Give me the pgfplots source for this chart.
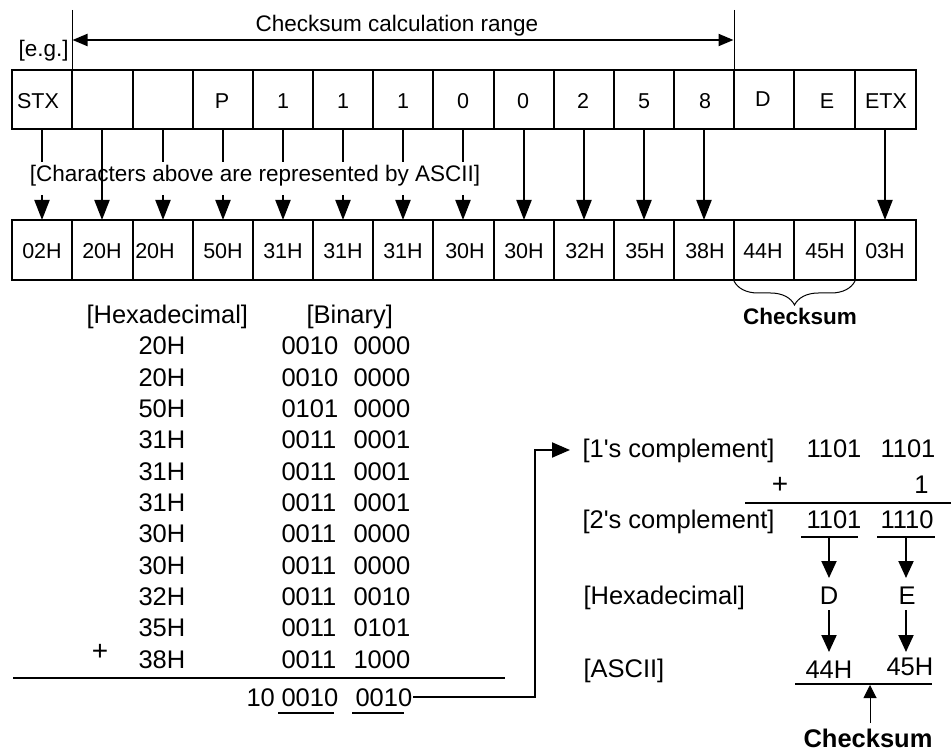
\documentclass[border=0pt]{standalone}
\usepackage{pgfplots}
\pgfplotsset{compat=1.18}
\usepackage{fontspec}
\setmainfont{Liberation Sans}[Ligatures=TeXOff]
\usetikzlibrary{arrows.meta,decorations.pathreplacing}
\newcommand\M{\fontsize{25.5}{30}\selectfont}
\newcommand\Sm{\fontsize{22.5}{27}\selectfont}
\newcommand\Bx{\fontsize{21.5}{26}\selectfont}
\begin{document}
\begin{tikzpicture}
\begin{axis}[scale only axis, width=951pt, height=751pt,
  xmin=0, xmax=951, ymin=0, ymax=751, y dir=reverse,
  hide axis, clip=false,
  arr/.style={line width=2pt, -{Triangle[width=15pt,length=20pt]}},
  arrb/.style={line width=2pt, -{Triangle[width=15pt,length=17pt]}},
  every node/.append style={inner sep=0pt, outer sep=0pt}]

% frames of the two rows of boxes
\addplot[line width=2pt, line cap=rect] coordinates {(12,70)(916,70)};
\addplot[line width=2pt, line cap=rect] coordinates {(12,129)(916,129)};
\addplot[line width=2pt, line cap=rect] coordinates {(12,220)(916,220)};
\addplot[line width=2pt, line cap=rect] coordinates {(12,280)(916,280)};
\pgfplotsinvokeforeach{12,72,133,193,253,313,373,433,494,554,614,674,734,794,855,916}{
  \addplot[line width=2pt, line cap=rect] coordinates {(#1,70)(#1,129)};
  \addplot[line width=2pt, line cap=rect] coordinates {(#1,220)(#1,280)};
}

% checksum calculation range
\addplot[line width=1pt] coordinates {(72,10)(72,70)};
\addplot[line width=1pt] coordinates {(734,10)(734,70)};
\addplot[line width=2pt, {Triangle[width=12pt,length=15pt]}-{Triangle[width=12pt,length=15pt]}] coordinates {(72.5,40)(733.5,40)};
\node[anchor=base, font=\Sm] at (axis cs:397,32) {Checksum calculation range};
\node[anchor=base west, font=\Sm] at (axis cs:15,57) {[e.g.]};

% arrows between the rows
\pgfplotsinvokeforeach{42,163,223,283,343,403,463}{
  \addplot[line width=2pt] coordinates {(#1,129)(#1,162)};
  \addplot[arr] coordinates {(#1,195)(#1,220)};
}
\pgfplotsinvokeforeach{102,524,584,644,704,885}{
  \addplot[arr] coordinates {(#1,129)(#1,220)};
}
\node[anchor=base, font=\Sm] at (axis cs:255,182) {[Characters above are represented by ASCII]};

% characters in the top row
\node[anchor=base, font=\Bx] at (axis cs:38,109) {STX};
\node[anchor=base, font=\Bx] at (axis cs:222,109) {P};
\node[anchor=base, font=\Bx] at (axis cs:283,109) {1};
\node[anchor=base, font=\Bx] at (axis cs:343,109) {1};
\node[anchor=base, font=\Bx] at (axis cs:403,109) {1};
\node[anchor=base, font=\Bx] at (axis cs:463,109) {0};
\node[anchor=base, font=\Bx] at (axis cs:523,109) {0};
\node[anchor=base, font=\Bx] at (axis cs:583,109) {2};
\node[anchor=base, font=\Bx] at (axis cs:644,109) {5};
\node[anchor=base, font=\Bx] at (axis cs:705,109) {8};
\node[anchor=base, font=\Bx] at (axis cs:763,107) {D};
\node[anchor=base, font=\Bx] at (axis cs:827,109) {E};
\node[anchor=base, font=\Bx] at (axis cs:886,109) {ETX};

% ASCII codes in the bottom row
\node[anchor=base, font=\Bx] at (axis cs:42,259) {02H};
\node[anchor=base, font=\Bx] at (axis cs:102,259) {20H};
\node[anchor=base, font=\Bx] at (axis cs:155,259) {20H};
\node[anchor=base, font=\Bx] at (axis cs:223,259) {50H};
\node[anchor=base, font=\Bx] at (axis cs:283,259) {31H};
\node[anchor=base, font=\Bx] at (axis cs:343,259) {31H};
\node[anchor=base, font=\Bx] at (axis cs:403,259) {31H};
\node[anchor=base, font=\Bx] at (axis cs:465,259) {30H};
\node[anchor=base, font=\Bx] at (axis cs:524,259) {30H};
\node[anchor=base, font=\Bx] at (axis cs:585,259) {32H};
\node[anchor=base, font=\Bx] at (axis cs:645,259) {35H};
\node[anchor=base, font=\Bx] at (axis cs:705,259) {38H};
\node[anchor=base, font=\Bx] at (axis cs:763,259) {44H};
\node[anchor=base, font=\Bx] at (axis cs:825,259) {45H};
\node[anchor=base, font=\Bx] at (axis cs:885,259) {03H};

% brace
\draw[line width=1pt, decorate, decoration={brace, mirror, amplitude=24pt}] (axis cs:734,281) -- (axis cs:855,281);
\node[anchor=base, font=\Sm\bfseries] at (axis cs:800,325) {Checksum};

% addition table
\node[anchor=base west, font=\M] at (axis cs:83,324) {[Hexadecimal]};
\node[anchor=base west, font=\M] at (axis cs:303,324) {[Binary]};
\node[anchor=base west, font=\M] at (axis cs:135,355)   {20H};
\node[anchor=base west, font=\M] at (axis cs:135,386.3) {20H};
\node[anchor=base west, font=\M] at (axis cs:135,417.6) {50H};
\node[anchor=base west, font=\M] at (axis cs:135,448.9) {31H};
\node[anchor=base west, font=\M] at (axis cs:135,480.2) {31H};
\node[anchor=base west, font=\M] at (axis cs:135,511.5) {31H};
\node[anchor=base west, font=\M] at (axis cs:135,542.8) {30H};
\node[anchor=base west, font=\M] at (axis cs:135,574.1) {30H};
\node[anchor=base west, font=\M] at (axis cs:135,605.4) {32H};
\node[anchor=base west, font=\M] at (axis cs:135,636.7) {35H};
\node[anchor=base west, font=\M] at (axis cs:135,668)   {38H};
\node[anchor=base west, font=\M] at (axis cs:278,355)   {0010};
\node[anchor=base west, font=\M] at (axis cs:350,355)   {0000};
\node[anchor=base west, font=\M] at (axis cs:278,386.3) {0010};
\node[anchor=base west, font=\M] at (axis cs:350,386.3) {0000};
\node[anchor=base west, font=\M] at (axis cs:278,417.6) {0101};
\node[anchor=base west, font=\M] at (axis cs:350,417.6) {0000};
\node[anchor=base west, font=\M] at (axis cs:278,448.9) {0011};
\node[anchor=base west, font=\M] at (axis cs:350,448.9) {0001};
\node[anchor=base west, font=\M] at (axis cs:278,480.2) {0011};
\node[anchor=base west, font=\M] at (axis cs:350,480.2) {0001};
\node[anchor=base west, font=\M] at (axis cs:278,511.5) {0011};
\node[anchor=base west, font=\M] at (axis cs:350,511.5) {0001};
\node[anchor=base west, font=\M] at (axis cs:278,542.8) {0011};
\node[anchor=base west, font=\M] at (axis cs:350,542.8) {0000};
\node[anchor=base west, font=\M] at (axis cs:278,574.1) {0011};
\node[anchor=base west, font=\M] at (axis cs:350,574.1) {0000};
\node[anchor=base west, font=\M] at (axis cs:278,605.4) {0011};
\node[anchor=base west, font=\M] at (axis cs:350,605.4) {0010};
\node[anchor=base west, font=\M] at (axis cs:278,636.7) {0011};
\node[anchor=base west, font=\M] at (axis cs:350,636.7) {0101};
\node[anchor=base west, font=\M] at (axis cs:278,668)   {0011};
\node[anchor=base west, font=\M] at (axis cs:350,668)   {1000};
\node[font=\fontsize{28}{32}\selectfont] at (axis cs:100,652) {+};
\addplot[line width=2.5pt] coordinates {(13,678)(505,678)};
\node[anchor=base west, font=\M] at (axis cs:243,706) {10};
\node[anchor=base west, font=\M] at (axis cs:278,706) {0010};
\node[anchor=base west, font=\M] at (axis cs:352,706) {0010};
\addplot[line width=2pt] coordinates {(278,713)(334,713)};
\addplot[line width=2pt] coordinates {(352,713)(404,713)};

% connector
\addplot[line width=2pt, -{Triangle[width=15pt,length=18pt]}] coordinates {(413,697)(535,697)(535,450)(570,450)};

% complement part
\node[anchor=base west, font=\M] at (axis cs:579,457) {[1's complement]};
\node[anchor=base west, font=\M] at (axis cs:803,457) {1101};
\node[anchor=base west, font=\M] at (axis cs:877,457) {1101};
\node[font=\fontsize{28}{32}\selectfont] at (axis cs:780,485) {+};
\node[anchor=base east, font=\M] at (axis cs:932,493) {1};
\addplot[line width=2.5pt] coordinates {(745,503)(951,503)};
\node[anchor=base west, font=\M] at (axis cs:579,528) {[2's complement]};
\node[anchor=base west, font=\M] at (axis cs:803,528) {1101};
\node[anchor=base west, font=\M] at (axis cs:877,528) {1110};
\addplot[line width=2.5pt] coordinates {(801,537)(858,537)};
\addplot[line width=2.5pt] coordinates {(877,537)(935,537)};
\addplot[arrb] coordinates {(829,537)(829,578)};
\addplot[arrb] coordinates {(906,537)(906,578)};
\node[anchor=base west, font=\M] at (axis cs:580,604) {[Hexadecimal]};
\node[anchor=base, font=\M] at (axis cs:829,604) {D};
\node[anchor=base, font=\M] at (axis cs:907,604) {E};
\addplot[arrb] coordinates {(829,610)(829,652)};
\addplot[arrb] coordinates {(906,610)(906,652)};
\node[anchor=base west, font=\M] at (axis cs:580,677) {[ASCII]};
\node[anchor=base west, font=\M] at (axis cs:802,678) {44H};
\node[anchor=base west, font=\M] at (axis cs:883,675) {45H};
\addplot[line width=2.5pt] coordinates {(795,684)(932,684)};
\addplot[line width=1pt, -{Triangle[width=13pt,length=13pt]}] coordinates {(870,723)(870,685)};
\node[anchor=base, font=\M\bfseries] at (axis cs:868,747) {Checksum};
\end{axis}
\pgfresetboundingbox
\path (current axis.south west) rectangle (current axis.north east);
\end{tikzpicture}
\end{document}
